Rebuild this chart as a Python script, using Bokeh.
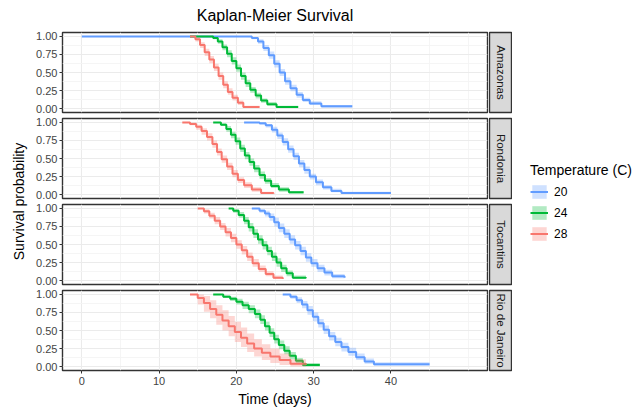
import math
from bokeh.plotting import figure
from bokeh.layouts import row, column
from bokeh.models import FixedTicker, PrintfTickFormatter, Legend, LegendItem, Range1d
from bokeh.core.properties import value
from bokeh.embed import file_html
from bokeh.resources import INLINE

FONT = "Liberation Sans"

regions = ["Amazonas", "Rondonia", "Tocantins", "Rio de Janeiro"]
temperatures = ["20", "24", "28"]
palette = {"20": "#619CFF", "24": "#00BA38", "28": "#F8766D"}
x_major = [0, 10, 20, 30, 40]
x_minor = [5, 15, 25, 35, 45, 50]
y_major = [0.0, 0.25, 0.5, 0.75, 1.0]
y_minor = [0.125, 0.375, 0.625, 0.875]

# ---------------- Amazonas ----------------
am20_t = [0, 22.0, 22.8, 23.5, 24.2, 24.9, 25.6, 26.3, 27.0, 27.8, 28.6, 29.5, 31.0, 35.0]
am20_s = [1.00, 0.98, 0.93, 0.84, 0.74, 0.62, 0.50, 0.38, 0.28, 0.19, 0.12, 0.07, 0.03, 0.03]
am20_lo = [1.00, 0.96, 0.90, 0.80, 0.69, 0.57, 0.45, 0.33, 0.24, 0.15, 0.09, 0.05, 0.01, 0.01]
am20_hi = [1.00, 0.99, 0.96, 0.88, 0.79, 0.67, 0.55, 0.43, 0.33, 0.23, 0.15, 0.10, 0.05, 0.05]

am24_t = [14, 17.0, 17.6, 18.2, 18.8, 19.4, 20.0, 20.6, 21.2, 21.8, 22.5, 23.2, 24.0, 25.2, 28.0]
am24_s = [1.00, 0.98, 0.93, 0.85, 0.76, 0.66, 0.56, 0.45, 0.35, 0.26, 0.18, 0.11, 0.06, 0.02, 0.02]
am24_lo = [1.00, 0.96, 0.90, 0.81, 0.71, 0.61, 0.51, 0.40, 0.30, 0.22, 0.14, 0.08, 0.04, 0.01, 0.01]
am24_hi = [1.00, 0.99, 0.96, 0.89, 0.81, 0.71, 0.61, 0.50, 0.40, 0.30, 0.22, 0.14, 0.09, 0.04, 0.04]

am28_t = [14, 14.7, 15.3, 15.9, 16.5, 17.1, 17.7, 18.3, 18.9, 19.5, 20.2, 20.9, 23.0]
am28_s = [1.00, 0.96, 0.88, 0.78, 0.68, 0.57, 0.45, 0.33, 0.23, 0.15, 0.08, 0.02, 0.02]
am28_lo = [1.00, 0.93, 0.84, 0.73, 0.63, 0.52, 0.40, 0.28, 0.19, 0.11, 0.05, 0.01, 0.01]
am28_hi = [1.00, 0.99, 0.92, 0.83, 0.73, 0.62, 0.50, 0.38, 0.28, 0.19, 0.11, 0.04, 0.04]

# ---------------- Rondonia ----------------
ro20_t = [21, 23.0, 23.8, 24.6, 25.3, 26.0, 26.7, 27.4, 28.1, 28.8, 29.5, 30.3, 31.2, 32.3, 33.6, 40.0]
ro20_s = [1.00, 0.99, 0.96, 0.90, 0.82, 0.73, 0.63, 0.53, 0.43, 0.34, 0.25, 0.17, 0.10, 0.05, 0.02, 0.02]
ro20_lo = [1.00, 0.97, 0.93, 0.86, 0.77, 0.68, 0.58, 0.48, 0.38, 0.29, 0.21, 0.13, 0.07, 0.03, 0.01, 0.01]
ro20_hi = [1.00, 1.00, 0.98, 0.94, 0.86, 0.78, 0.68, 0.58, 0.48, 0.39, 0.29, 0.21, 0.13, 0.08, 0.04, 0.04]

ro24_t = [17, 18.0, 18.7, 19.3, 19.9, 20.5, 21.1, 21.7, 22.3, 23.0, 23.7, 24.5, 25.5, 26.8, 28.7]
ro24_s = [1.00, 0.97, 0.91, 0.83, 0.74, 0.64, 0.54, 0.45, 0.36, 0.27, 0.19, 0.12, 0.07, 0.03, 0.03]
ro24_lo = [1.00, 0.95, 0.87, 0.78, 0.69, 0.59, 0.49, 0.40, 0.31, 0.22, 0.15, 0.09, 0.04, 0.01, 0.01]
ro24_hi = [1.00, 0.99, 0.95, 0.87, 0.79, 0.69, 0.59, 0.50, 0.41, 0.32, 0.23, 0.16, 0.10, 0.05, 0.05]

ro28_t = [13, 14.0, 14.8, 15.5, 16.2, 16.9, 17.5, 18.1, 18.8, 19.5, 20.2, 21.0, 22.0, 23.2, 24.8]
ro28_s = [1.00, 0.98, 0.94, 0.88, 0.80, 0.70, 0.59, 0.49, 0.39, 0.29, 0.20, 0.13, 0.07, 0.02, 0.01]
ro28_lo = [1.00, 0.96, 0.90, 0.83, 0.75, 0.65, 0.54, 0.44, 0.34, 0.24, 0.16, 0.09, 0.04, 0.01, 0.00]
ro28_hi = [1.00, 1.00, 0.97, 0.92, 0.85, 0.75, 0.64, 0.54, 0.44, 0.34, 0.24, 0.17, 0.10, 0.04, 0.03]

# ---------------- Tocantins ----------------
to20_t = [22, 23.0, 23.7, 24.3, 24.9, 25.5, 26.2, 26.9, 27.6, 28.3, 29.0, 29.7, 30.5, 31.4, 32.4, 34.0]
to20_s = [1.00, 0.97, 0.93, 0.88, 0.81, 0.73, 0.65, 0.57, 0.49, 0.41, 0.32, 0.24, 0.17, 0.11, 0.06, 0.04]
to20_lo = [1.00, 0.94, 0.89, 0.83, 0.75, 0.67, 0.59, 0.51, 0.43, 0.35, 0.26, 0.19, 0.12, 0.07, 0.03, 0.02]
to20_hi = [1.00, 0.99, 0.97, 0.93, 0.87, 0.79, 0.71, 0.63, 0.55, 0.47, 0.38, 0.30, 0.22, 0.15, 0.09, 0.07]

to24_t = [19, 19.6, 20.3, 21.0, 21.6, 22.2, 22.8, 23.4, 24.0, 24.6, 25.2, 25.8, 26.5, 27.3, 29.0]
to24_s = [1.00, 0.97, 0.91, 0.83, 0.74, 0.65, 0.57, 0.49, 0.41, 0.33, 0.25, 0.17, 0.10, 0.04, 0.03]
to24_lo = [1.00, 0.94, 0.87, 0.78, 0.68, 0.59, 0.51, 0.43, 0.35, 0.27, 0.19, 0.12, 0.06, 0.02, 0.01]
to24_hi = [1.00, 0.99, 0.95, 0.88, 0.80, 0.71, 0.63, 0.55, 0.47, 0.39, 0.31, 0.22, 0.14, 0.07, 0.05]

to28_t = [15, 15.8, 16.5, 17.2, 17.9, 18.6, 19.3, 20.0, 20.7, 21.4, 22.1, 22.9, 23.8, 24.8, 26.0]
to28_s = [1.00, 0.96, 0.90, 0.83, 0.75, 0.67, 0.59, 0.50, 0.42, 0.33, 0.24, 0.16, 0.09, 0.04, 0.02]
to28_lo = [1.00, 0.93, 0.86, 0.78, 0.70, 0.61, 0.53, 0.44, 0.36, 0.27, 0.19, 0.12, 0.06, 0.02, 0.01]
to28_hi = [1.00, 0.99, 0.94, 0.88, 0.80, 0.73, 0.65, 0.56, 0.48, 0.39, 0.30, 0.21, 0.13, 0.07, 0.04]

# ---------------- Rio de Janeiro ----------------
rj20_t = [26, 27.0, 27.8, 28.5, 29.2, 29.9, 30.6, 31.3, 32.0, 32.8, 33.6, 34.5, 35.5, 36.6, 37.8, 45.0]
rj20_s = [1.00, 0.97, 0.92, 0.86, 0.78, 0.69, 0.60, 0.51, 0.42, 0.34, 0.27, 0.20, 0.13, 0.07, 0.03, 0.03]
rj20_lo = [1.00, 0.94, 0.88, 0.81, 0.72, 0.63, 0.54, 0.45, 0.36, 0.28, 0.21, 0.15, 0.09, 0.04, 0.01, 0.01]
rj20_hi = [1.00, 0.99, 0.96, 0.91, 0.84, 0.75, 0.66, 0.57, 0.48, 0.40, 0.33, 0.26, 0.18, 0.11, 0.06, 0.06]

rj24_t = [17, 18.3, 19.2, 20.0, 20.8, 21.6, 22.4, 23.1, 23.7, 24.3, 24.9, 25.5, 26.2, 26.9, 27.7, 28.6, 30.8]
rj24_s = [1.00, 0.97, 0.94, 0.90, 0.85, 0.80, 0.73, 0.65, 0.56, 0.47, 0.38, 0.30, 0.22, 0.15, 0.08, 0.02, 0.02]
rj24_lo = [1.00, 0.95, 0.91, 0.86, 0.80, 0.74, 0.67, 0.59, 0.50, 0.41, 0.32, 0.24, 0.17, 0.10, 0.05, 0.00, 0.00]
rj24_hi = [1.00, 0.99, 0.97, 0.94, 0.90, 0.85, 0.79, 0.71, 0.62, 0.53, 0.44, 0.36, 0.28, 0.20, 0.12, 0.05, 0.05]

rj28_t = [14, 15.0, 15.8, 16.6, 17.4, 18.2, 19.0, 19.8, 20.6, 21.4, 22.3, 23.3, 24.4, 25.6, 27.0, 29.0]
rj28_s = [1.00, 0.95, 0.88, 0.80, 0.72, 0.64, 0.56, 0.48, 0.40, 0.32, 0.25, 0.19, 0.14, 0.09, 0.04, 0.02]
rj28_lo = [1.00, 0.86, 0.76, 0.67, 0.58, 0.50, 0.42, 0.34, 0.27, 0.20, 0.14, 0.09, 0.05, 0.02, 0.00, 0.00]
rj28_hi = [1.00, 1.00, 0.98, 0.92, 0.85, 0.78, 0.70, 0.62, 0.54, 0.46, 0.38, 0.31, 0.25, 0.18, 0.10, 0.05]

curves = {
    ("Amazonas", "20"): (am20_t, am20_s, am20_lo, am20_hi),
    ("Amazonas", "24"): (am24_t, am24_s, am24_lo, am24_hi),
    ("Amazonas", "28"): (am28_t, am28_s, am28_lo, am28_hi),
    ("Rondonia", "20"): (ro20_t, ro20_s, ro20_lo, ro20_hi),
    ("Rondonia", "24"): (ro24_t, ro24_s, ro24_lo, ro24_hi),
    ("Rondonia", "28"): (ro28_t, ro28_s, ro28_lo, ro28_hi),
    ("Tocantins", "20"): (to20_t, to20_s, to20_lo, to20_hi),
    ("Tocantins", "24"): (to24_t, to24_s, to24_lo, to24_hi),
    ("Tocantins", "28"): (to28_t, to28_s, to28_lo, to28_hi),
    ("Rio de Janeiro", "20"): (rj20_t, rj20_s, rj20_lo, rj20_hi),
    ("Rio de Janeiro", "24"): (rj24_t, rj24_s, rj24_lo, rj24_hi),
    ("Rio de Janeiro", "28"): (rj28_t, rj28_s, rj28_lo, rj28_hi),
}

# ---------------- layout constants ----------------
TITLE_H = 29
FRAME_W = 425
FRAME_H = 80
LEFT_B = 32
TOP_B = 3
BOT_B = 3
LAST_BOT_B = 38
STRIP_W = 22
YLAB_W = 30
LEG_W = 122
TOTAL_H = TITLE_H + 4 * (TOP_B + FRAME_H) + 3 * BOT_B + LAST_BOT_B

xr = Range1d(-2.5, 52.5)
yr = Range1d(-0.055, 1.055)


def style_axis(ax, ticks):
    ax.ticker = FixedTicker(ticks=ticks, minor_ticks=[])
    ax.axis_line_color = None
    ax.major_tick_in = 0
    ax.major_tick_out = 3
    ax.major_tick_line_color = "#333333"
    ax.major_tick_line_width = 1
    ax.minor_tick_line_color = None
    ax.major_label_text_font = FONT
    ax.major_label_text_font_size = "11px"
    ax.major_label_text_color = "#444444"
    ax.major_label_standoff = 2


def make_panel(region, last):
    p = figure(frame_width=FRAME_W, frame_height=FRAME_H, x_range=xr, y_range=yr,
               min_border=0, min_border_left=LEFT_B, min_border_right=1,
               min_border_top=TOP_B, min_border_bottom=LAST_BOT_B if last else BOT_B,
               x_axis_location="below" if last else None,
               toolbar_location=None, output_backend="svg")
    p.xgrid.ticker = FixedTicker(ticks=x_major, minor_ticks=x_minor)
    p.ygrid.ticker = FixedTicker(ticks=y_major, minor_ticks=y_minor)
    for g in (p.xgrid, p.ygrid):
        g.grid_line_color = "#EBEBEB"
        g.grid_line_width = 1.1
        g.minor_grid_line_color = "#F4F4F4"
        g.minor_grid_line_width = 0.9
    p.outline_line_color = "#333333"
    p.outline_line_width = 1.4
    p.background_fill_color = "white"
    style_axis(p.yaxis[0], y_major)
    p.yaxis[0].formatter = PrintfTickFormatter(format="%.2f")
    if last:
        style_axis(p.xaxis[0], x_major)
        p.xaxis[0].major_label_standoff = 3
        p.xaxis[0].axis_label = "Time (days)"
        p.xaxis[0].axis_label_text_font = FONT
        p.xaxis[0].axis_label_text_font_size = "14px"
        p.xaxis[0].axis_label_text_font_style = "normal"
        p.xaxis[0].axis_label_text_color = "black"
        p.xaxis[0].axis_label_standoff = 3
    for temp in temperatures:
        t, s, lo, hi = curves[(region, temp)]
        p.step(x=t, y=s, mode="after", line_color=palette[temp], line_width=2)
    for temp in temperatures:
        t, s, lo, hi = curves[(region, temp)]
        p.varea_step(x=t, y1=lo, y2=hi, step_mode="after",
                     fill_color=palette[temp], fill_alpha=0.3)
    return p


def make_strip(region, last):
    s = figure(frame_width=STRIP_W, frame_height=FRAME_H,
               x_range=Range1d(0, 1), y_range=Range1d(0, 1),
               min_border=0, min_border_left=1, min_border_right=1,
               min_border_top=TOP_B, min_border_bottom=LAST_BOT_B if last else BOT_B,
               x_axis_location=None, y_axis_location=None,
               toolbar_location=None, output_backend="svg")
    s.grid.visible = False
    s.background_fill_color = "#D9D9D9"
    s.outline_line_color = "#333333"
    s.outline_line_width = 1.4
    s.text(x=[0.5], y=[0.5], text=[region], angle=-math.pi / 2,
           text_align="center", text_baseline="middle",
           text_font=value(FONT), text_font_size="11.5px", text_color="#1A1A1A")
    return s


# title
tfig = figure(frame_width=FRAME_W, frame_height=TITLE_H, x_range=xr, y_range=Range1d(0, 1),
              min_border=0, min_border_left=LEFT_B, min_border_right=1 + STRIP_W + 2,
              x_axis_location=None, y_axis_location=None,
              toolbar_location=None, output_backend="svg")
tfig.grid.visible = False
tfig.outline_line_color = None
tfig.text(x=[(xr.start + xr.end) / 2], y=[0.47], text=["Kaplan-Meier Survival"],
          text_align="center", text_baseline="middle",
          text_font=value(FONT), text_font_size="16px", text_color="black")

rows = []
for i, reg in enumerate(regions):
    last = i == len(regions) - 1
    rows.append(row(make_panel(reg, last), make_strip(reg, last)))

# y label
ylab = figure(frame_width=YLAB_W, frame_height=TOTAL_H,
              x_range=Range1d(0, 1), y_range=Range1d(0, TOTAL_H),
              min_border=0, x_axis_location=None, y_axis_location=None,
              toolbar_location=None, output_backend="svg")
ylab.grid.visible = False
ylab.outline_line_color = None
panels_top = TITLE_H + TOP_B
panels_bottom = TOTAL_H - LAST_BOT_B
ylab.text(x=[0.6], y=[TOTAL_H - (panels_top + panels_bottom) / 2], text=["Survival probability"],
          angle=math.pi / 2, text_align="center", text_baseline="middle",
          text_font=value(FONT), text_font_size="14px", text_color="black")

# legend (proxy renderers hold a single NaN so that only their legend keys are drawn)
leg = figure(frame_width=LEG_W, frame_height=TOTAL_H,
             x_range=Range1d(0, 1), y_range=Range1d(0, 1),
             min_border=0, x_axis_location=None, y_axis_location=None,
             toolbar_location=None, output_backend="svg")
leg.grid.visible = False
leg.outline_line_color = None
nan = float("nan")
items = []
for temp in temperatures:
    a = leg.varea(x=[nan], y1=[nan], y2=[nan], fill_color=palette[temp], fill_alpha=0.3)
    l = leg.line(x=[nan], y=[nan], line_color=palette[temp], line_width=2)
    items.append(LegendItem(label=temp, renderers=[a, l]))
legend = Legend(items=items, location=(18, 166), title="Temperature (C)",
                title_text_font=FONT, title_text_font_size="14px",
                title_text_font_style="normal", title_text_color="black",
                title_standoff=5,
                label_text_font=FONT, label_text_font_size="12px", label_text_color="black",
                glyph_width=18, glyph_height=17, label_height=17, label_standoff=6,
                spacing=4, padding=0, margin=0,
                border_line_color=None, background_fill_alpha=0)
leg.add_layout(legend)

layout = row(ylab, column(tfig, *rows), leg)

with open("out.html", "w") as f:
    f.write(file_html(layout, INLINE))
